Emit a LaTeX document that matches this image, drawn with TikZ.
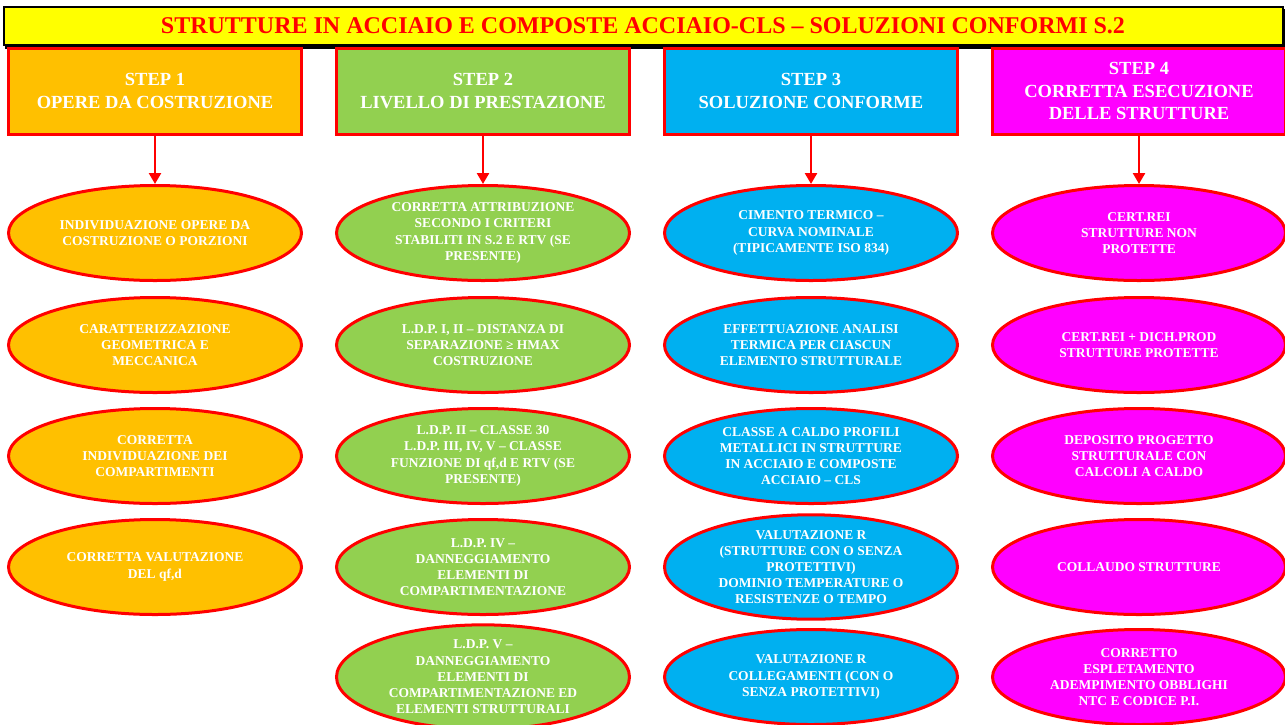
\documentclass[tikz,border=0pt]{standalone}
\usepackage{fontspec}
\setmainfont{Liberation Serif}
\usetikzlibrary{shapes.geometric,arrows.meta}
\definecolor{stepgold}{HTML}{FFC000}
\definecolor{stepgreen}{HTML}{92D050}
\definecolor{stepcyan}{HTML}{00B0F0}
\definecolor{stepmag}{HTML}{FF00FF}
\definecolor{titleyellow}{HTML}{FFFF00}
\definecolor{linered}{HTML}{FF0000}
\begin{document}
\begin{tikzpicture}[x=1pt,y=-1pt,
  stepbox/.style={draw=linered, line width=3pt, minimum width=293pt, minimum height=86pt, inner sep=0pt, align=center, text=white, font=\fontsize{18.5}{22.5}\selectfont\bfseries},
  oval/.style={ellipse, draw=linered, line width=3pt, minimum width=293pt, minimum height=95pt, inner sep=0pt, align=center, text=white, font=\fontsize{13.5}{16.2}\selectfont\bfseries},
  link/.style={draw=linered, line width=2.5pt, -{Triangle[length=11pt,width=12pt]}}]
\useasboundingbox (0,0) rectangle (1285,724);
\fill[white] (0,0) rectangle (1285,724);
% title
\fill[black] (5,9) rectangle (1285,48.5);
\node[fill=titleyellow, draw=black, line width=2pt, minimum width=1279pt, minimum height=38pt, inner sep=0pt, text=linered, font=\fontsize{24}{26}\selectfont\bfseries] (title) at (643,26) {STRUTTURE IN ACCIAIO E COMPOSTE ACCIAIO-CLS – SOLUZIONI CONFORMI S.2};
% steps
\node[stepbox, fill=stepgold] (s1) at (155,91) {STEP 1\\OPERE DA COSTRUZIONE};
\node[stepbox, fill=stepgreen] (s2) at (483,91) {STEP 2\\LIVELLO DI PRESTAZIONE};
\node[stepbox, fill=stepcyan] (s3) at (811,91) {STEP 3\\SOLUZIONE CONFORME};
\node[stepbox, fill=stepmag] (s4) at (1139,91) {STEP 4\\CORRETTA ESECUZIONE\\DELLE STRUTTURE};
% column 1
\node[oval, fill=stepgold] (a1) at (155,233) {INDIVIDUAZIONE OPERE DA\\COSTRUZIONE O PORZIONI};
\node[oval, fill=stepgold] (a2) at (155,345) {CARATTERIZZAZIONE\\GEOMETRICA E\\MECCANICA};
\node[oval, fill=stepgold] (a3) at (155,456) {CORRETTA\\INDIVIDUAZIONE DEI\\COMPARTIMENTI};
\node[oval, fill=stepgold] (a4) at (155,567) {CORRETTA VALUTAZIONE\\DEL qf,d};
% column 2
\node[oval, fill=stepgreen] (b1) at (483,233) {CORRETTA ATTRIBUZIONE\\SECONDO I CRITERI\\STABILITI IN S.2 E RTV (SE\\PRESENTE)};
\node[oval, fill=stepgreen] (b2) at (483,345) {L.D.P. I, II – DISTANZA DI\\SEPARAZIONE ≥ HMAX\\COSTRUZIONE};
\node[oval, fill=stepgreen] (b3) at (483,456) {L.D.P. II – CLASSE 30\\L.D.P. III, IV, V – CLASSE\\FUNZIONE DI qf,d E RTV (SE\\PRESENTE)};
\node[oval, fill=stepgreen] (b4) at (483,567) {L.D.P. IV –\\DANNEGGIAMENTO\\ELEMENTI DI\\COMPARTIMENTAZIONE};
\node[oval, fill=stepgreen] (b5) at (483,677) {L.D.P. V –\\DANNEGGIAMENTO\\ELEMENTI DI\\COMPARTIMENTAZIONE ED\\ELEMENTI STRUTTURALI};
% column 3
\node[oval, fill=stepcyan] (c1) at (811,233) {CIMENTO TERMICO –\\CURVA NOMINALE\\(TIPICAMENTE ISO 834)};
\node[oval, fill=stepcyan] (c2) at (811,345) {EFFETTUAZIONE ANALISI\\TERMICA PER CIASCUN\\ELEMENTO STRUTTURALE};
\node[oval, fill=stepcyan] (c3) at (811,456) {CLASSE A CALDO PROFILI\\METALLICI IN STRUTTURE\\IN ACCIAIO E COMPOSTE\\ACCIAIO – CLS};
\node[oval, fill=stepcyan] (c4) at (811,567) {VALUTAZIONE R\\(STRUTTURE CON O SENZA\\PROTETTIVI)\\DOMINIO TEMPERATURE O\\RESISTENZE O TEMPO};
\node[oval, fill=stepcyan] (c5) at (811,677) {VALUTAZIONE R\\COLLEGAMENTI (CON O\\SENZA PROTETTIVI)};
% column 4
\node[oval, fill=stepmag] (d1) at (1139,233) {CERT.REI\\STRUTTURE NON\\PROTETTE};
\node[oval, fill=stepmag] (d2) at (1139,345) {CERT.REI + DICH.PROD\\STRUTTURE PROTETTE};
\node[oval, fill=stepmag] (d3) at (1139,456) {DEPOSITO PROGETTO\\STRUTTURALE CON\\CALCOLI A CALDO};
\node[oval, fill=stepmag] (d4) at (1139,567) {COLLAUDO STRUTTURE};
\node[oval, fill=stepmag] (d5) at (1139,677) {CORRETTO\\ESPLETAMENTO\\ADEMPIMENTO OBBLIGHI\\NTC E CODICE P.I.};
% arrows
\draw[link] (s1) -- (a1);
\draw[link] (s2) -- (b1);
\draw[link] (s3) -- (c1);
\draw[link] (s4) -- (d1);
\end{tikzpicture}
\end{document}
